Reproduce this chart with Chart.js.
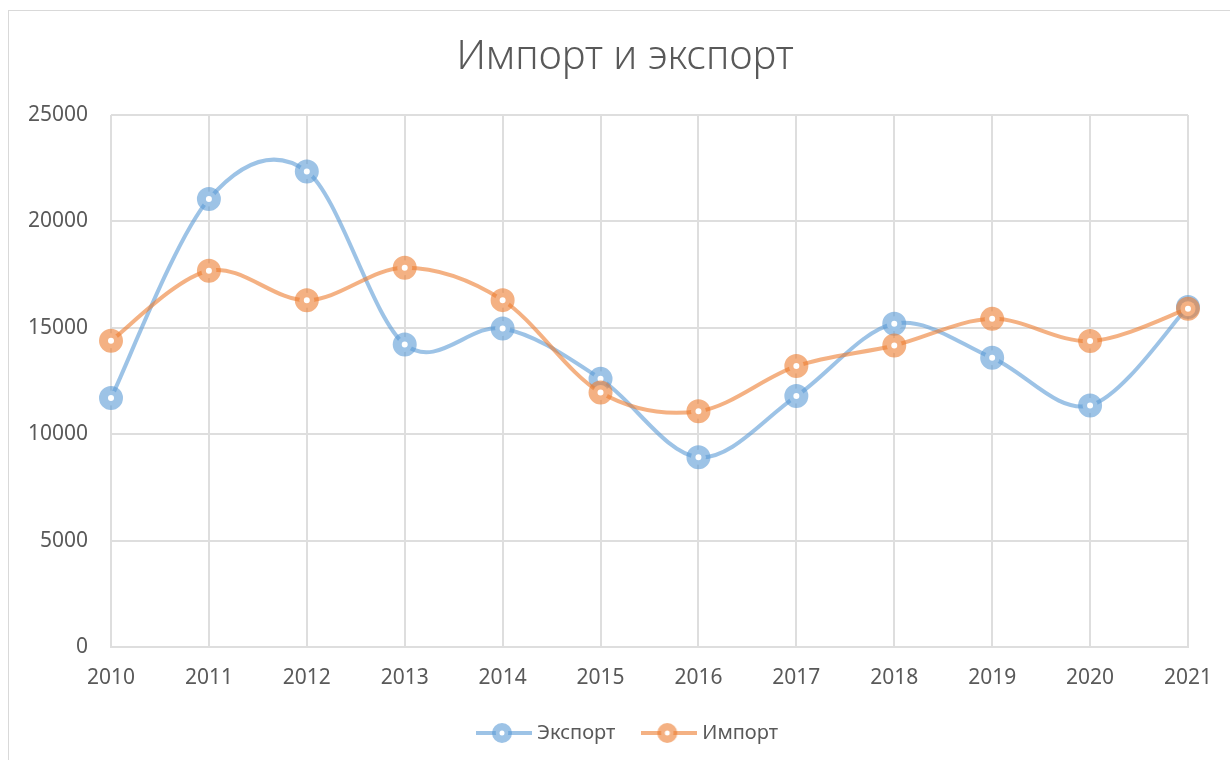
<!DOCTYPE html>
<html>
<head>
<meta charset="utf-8">
<script src="https://cdn.jsdelivr.net/npm/chart.js@4.4.0/dist/chart.umd.min.js"></script>
<style>
    html, body { margin: 0; padding: 0; background: #fff; }
    #wrap { width: 1230px; height: 760px; position: relative; }
</style>
</head>
<body>
<div id="wrap"><canvas id="chart" width="1230" height="760"></canvas></div>
<script>
var years = ['2010', '2011', '2012', '2013', '2014', '2015', '2016', '2017', '2018', '2019', '2020', '2021'];
var exportValues = [11700, 21050, 22350, 14220, 14970, 12600, 8920, 11790, 15190, 13590, 11350, 15980];
var importValues = [14390, 17680, 16290, 17820, 16300, 11960, 11080, 13200, 14170, 15420, 14375, 15900];
var yTicks = [0, 5000, 10000, 15000, 20000, 25000];

var titleText = 'Импорт и экспорт';
var textColor = '#595959';
var gridColor = '#dedede';
var blue = 'rgba(91,155,213,0.6)';
var orange = 'rgba(237,125,49,0.6)';

/**
 * legend symbol: short line with the ring marker on it
 */
function legendSymbol(color) {
    var c = document.createElement('canvas');
    c.width = 56;
    c.height = 24;
    var ctx = c.getContext('2d');
    ctx.strokeStyle = color;
    ctx.lineWidth = 4;
    ctx.beginPath();
    ctx.moveTo(0, 12);
    ctx.lineTo(56, 12);
    ctx.stroke();
    ctx.fillStyle = '#fff';
    ctx.beginPath();
    ctx.arc(26, 12, 6.25, 0, Math.PI * 2);
    ctx.fill();
    ctx.lineWidth = 7.5;
    ctx.stroke();
    return c;
}

// office-style smoothing: uniform catmull-rom, arms = (next - prev) / 6
var smoothPlugin = {
    id: 'smooth',
    beforeDatasetsDraw: function(chart) {
        chart.getSortedVisibleDatasetMetas().forEach(function(meta) {
            var pts = meta.data;
            var n = pts.length;
            for(var i = 0; i < n; i++) {
                var prev = pts[Math.max(i - 1, 0)];
                var next = pts[Math.min(i + 1, n - 1)];
                var dx = (next.x - prev.x) / 6;
                var dy = (next.y - prev.y) / 6;
                pts[i].cp1x = pts[i].x - dx;
                pts[i].cp1y = pts[i].y - dy;
                pts[i].cp2x = pts[i].x + dx;
                pts[i].cp2y = pts[i].y + dy;
            }
            meta.dataset._pointsUpdated = true;
        });
    }
};

// outer frame and title, like the office chart box
var framePlugin = {
    id: 'frame',
    afterLayout: function(chart) {
        // legend sits centred under the plot, not under the whole canvas
        chart.legend.left += 35;
        chart.legend.right += 35;
    },
    beforeDraw: function(chart) {
        var ctx = chart.ctx;
        ctx.save();
        ctx.fillStyle = '#fff';
        ctx.fillRect(0, 0, chart.width, chart.height);
        ctx.strokeStyle = '#d9d9d9';
        ctx.lineWidth = 1;
        ctx.strokeRect(8.5, 10.5, chart.width + 20, chart.height + 20);
        ctx.fillStyle = textColor;
        ctx.font = '300 40px "Noto Sans", "Open Sans", sans-serif';
        ctx.textAlign = 'center';
        ctx.textBaseline = 'middle';
        ctx.fillText(titleText, 625, 58);
        ctx.restore();
    }
};

var ctx = document.getElementById('chart').getContext('2d');

new Chart(ctx, {
    type: 'line',
    data: {
        labels: years,
        datasets: [{
            label: 'Экспорт',
            data: exportValues,
            borderColor: blue,
            pointBorderColor: blue,
            pointBackgroundColor: '#fff',
            legendSymbol: legendSymbol(blue),
            order: 0,
        }, {
            label: 'Импорт',
            data: importValues,
            borderColor: orange,
            pointBorderColor: orange,
            pointBackgroundColor: '#fff',
            legendSymbol: legendSymbol(orange),
            order: -1,
        }],
    },
    options: {
        responsive: false,
        animation: false,
        devicePixelRatio: 1,
        clip: false,
        layout: {
            padding: {top: 115, right: 41, bottom: 7, left: 0},
        },
        elements: {
            line: {borderWidth: 4, tension: 0.33, fill: false},
            point: {radius: 7.5, borderWidth: 9, hoverRadius: 7.5},
        },
        scales: {
            x: {
                offset: false,
                grid: {color: gridColor, lineWidth: 2, drawTicks: false},
                border: {color: gridColor, width: 2},
                ticks: {
                    color: textColor,
                    font: {family: '"Noto Sans", sans-serif', size: 21},
                    padding: 18,
                    maxRotation: 0,
                    autoSkip: false,
                },
                afterFit: function(scale) { scale.height = 45; },
            },
            y: {
                min: 0,
                max: 25000,
                grid: {color: gridColor, lineWidth: 2, drawTicks: false},
                border: {display: false},
                afterBuildTicks: function(scale) {
                    scale.ticks = yTicks.map(function(v) { return {value: v}; });
                },
                ticks: {
                    color: textColor,
                    font: {family: '"Noto Sans", sans-serif', size: 21},
                    padding: 23,
                    callback: function(v) { return String(v); },
                },
                afterFit: function(scale) { scale.width = 111; },
            },
        },
        plugins: {
            title: {display: false},
            tooltip: {enabled: false},
            legend: {
                position: 'bottom',
                labels: {
                    color: textColor,
                    font: {family: '"Noto Sans", sans-serif', size: 20},
                    usePointStyle: true,
                    pointStyleWidth: 46,
                    padding: 31,
                    sort: function(a, b) { return a.datasetIndex - b.datasetIndex; },
                    generateLabels: function(chart) {
                        var items = Chart.defaults.plugins.legend.labels.generateLabels(chart);
                        items.forEach(function(item) {
                            item.pointStyle = chart.data.datasets[item.datasetIndex].legendSymbol;
                        });
                        return items;
                    },
                },
            },
        },
    },
    plugins: [smoothPlugin, framePlugin],
});
</script>
</body>
</html>
